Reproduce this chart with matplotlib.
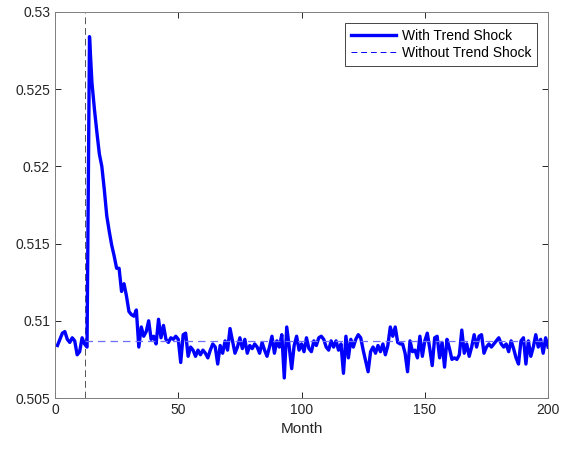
#!/usr/bin/env python3
"""Trend shock impulse response, MATLAB-like styling."""

import matplotlib
matplotlib.use("Agg")
import matplotlib.pyplot as plt
import numpy as np

plt.rcParams["font.family"] = ["Liberation Sans", "DejaVu Sans"]

# ── data ────────────────────────────────────────────────────────────────
with_shock = [
    # 1-13: before shock
    0.5084, 0.5088, 0.5092, 0.5093, 0.5088, 0.5086, 0.5089, 0.5087, 0.5078, 0.5080,
    0.5089, 0.5085, 0.5083,
    # 14-29: jump and decay
    0.5284, 0.5254, 0.5237, 0.5222, 0.5208, 0.5200, 0.5185, 0.5168, 0.5158, 0.5149,
    0.5142, 0.5134, 0.5134, 0.5119, 0.5124, 0.5116,
    # 30-100
    0.5106, 0.5104, 0.5103, 0.5107, 0.5083, 0.5096, 0.5090, 0.5093, 0.5100, 0.5088,
    0.5090, 0.5085, 0.5101, 0.5089, 0.5097, 0.5088, 0.5086, 0.5089, 0.5088, 0.5090,
    0.5088, 0.5073, 0.5091, 0.5092, 0.5077, 0.5083, 0.5081, 0.5077, 0.5081, 0.5078,
    0.5081, 0.5079, 0.5076, 0.5081, 0.5085, 0.5083, 0.5072, 0.5084, 0.5079, 0.5087,
    0.5081, 0.5095, 0.5087, 0.5079, 0.5083, 0.5089, 0.5082, 0.5088, 0.5079, 0.5084,
    0.5082, 0.5085, 0.5083, 0.5079, 0.5086, 0.5081, 0.5077, 0.5083, 0.5090, 0.5079,
    0.5087, 0.5083, 0.5091, 0.5063, 0.5096, 0.5083, 0.5069, 0.5084, 0.5090, 0.5081,
    0.5085,
    # 101-200
    0.5080, 0.5089, 0.5082, 0.5080, 0.5087, 0.5084, 0.5089, 0.5090, 0.5088, 0.5083,
    0.5081, 0.5087, 0.5083, 0.5087, 0.5081, 0.5085, 0.5066, 0.5090, 0.5076, 0.5088,
    0.5083, 0.5088, 0.5091, 0.5089, 0.5081, 0.5074, 0.5067, 0.5080, 0.5083, 0.5079,
    0.5084, 0.5080, 0.5085, 0.5078, 0.5084, 0.5096, 0.5090, 0.5096, 0.5086, 0.5085,
    0.5085, 0.5079, 0.5067, 0.5087, 0.5080, 0.5081, 0.5076, 0.5090, 0.5077, 0.5087,
    0.5092, 0.5082, 0.5071, 0.5089, 0.5090, 0.5076, 0.5086, 0.5070, 0.5088, 0.5082,
    0.5075, 0.5076, 0.5075, 0.5078, 0.5094, 0.5079, 0.5085, 0.5077, 0.5083, 0.5091,
    0.5083, 0.5090, 0.5091, 0.5079, 0.5083, 0.5085, 0.5083, 0.5085, 0.5087, 0.5089,
    0.5085, 0.5083, 0.5085, 0.5080, 0.5087, 0.5082, 0.5076, 0.5072, 0.5087, 0.5089,
    0.5072, 0.5087, 0.5077, 0.5083, 0.5091, 0.5083, 0.5088, 0.5079, 0.5089, 0.5083,
]
months = np.arange(1, len(with_shock) + 1)

shock_month = 12
baseline_level = 0.50867
baseline_months = [shock_month, 200]

x_ticks = [0, 50, 100, 150, 200]
y_ticks = [0.505, 0.51, 0.515, 0.52, 0.525, 0.53]
y_tick_labels = ["0.505", "0.51", "0.515", "0.52", "0.525", "0.53"]

# ── plot ────────────────────────────────────────────────────────────────
fig = plt.figure(figsize=(5.61, 4.51), dpi=100)
ax = fig.add_axes([0.098, 0.1175, 0.879, 0.856])

ax.axvline(shock_month, color="#555555", linestyle=(0, (7, 4)), linewidth=0.7)
ax.plot(months, with_shock, color="#0000ff", linewidth=2.4,
        label="With Trend Shock")
ax.plot(baseline_months, [baseline_level, baseline_level], color="#6f6fff",
        linestyle=(0, (6, 4)), linewidth=0.9,
        label="Without Trend Shock")

ax.set_xlim(0, 200)
ax.set_ylim(0.505, 0.53)
ax.set_xticks(x_ticks)
ax.set_yticks(y_ticks)
ax.set_yticklabels(y_tick_labels)
ax.set_xlabel("Month", fontsize=11, color="#262626")

axis_gray = "#262626"
for sp in ax.spines.values():
    sp.set_color("#7f7f7f")
    sp.set_linewidth(0.7)
ax.tick_params(direction="in", top=True, right=True, length=4, width=0.7,
               color=axis_gray, labelcolor=axis_gray, labelsize=10)

leg = ax.legend(loc="upper right", fontsize=10, handlelength=3.3,
                fancybox=False, framealpha=1, borderaxespad=0.8,
                borderpad=0.4, labelspacing=0.25, handletextpad=0.4)
leg.get_frame().set_edgecolor(axis_gray)
leg.get_frame().set_linewidth(0.6)
leg.get_lines()[1].set_color("#0000ff")
leg.get_lines()[1].set_linewidth(0.7)

fig.savefig("out.png", dpi=100)
